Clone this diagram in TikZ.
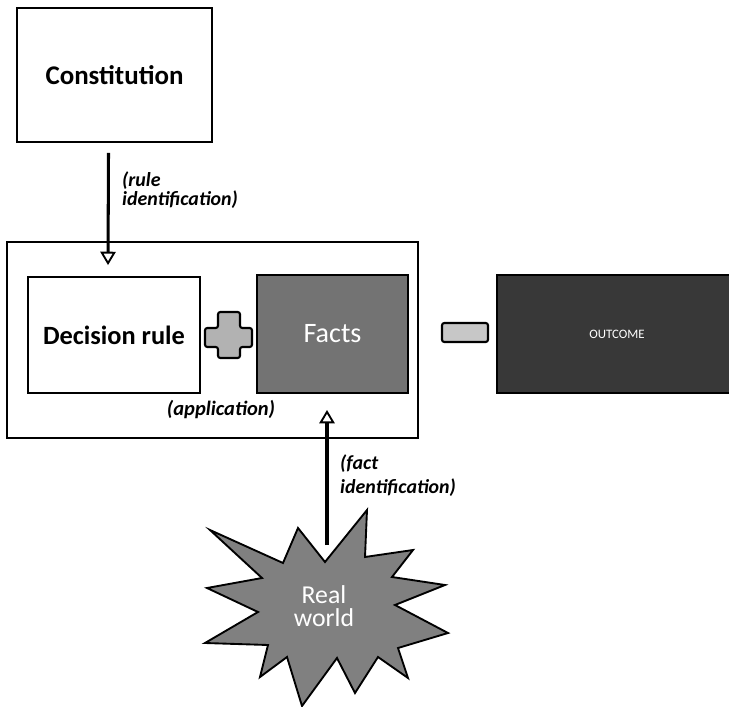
\documentclass[tikz,border=0pt]{standalone}
\usepackage{fontspec}
\setmainfont{Carlito}
\usepackage{tikz}
\usetikzlibrary{positioning,arrows.meta,calc}

\begin{document}
\begin{tikzpicture}[x=0.3mm, y=-0.3mm,
  box/.style={draw, line width=1.6pt, minimum width=#1, inner sep=0pt},
  big/.style={font=\fontsize{23}{26}\selectfont\bfseries},
  note/.style={font=\fontsize{17}{14.5}\selectfont\bfseries\itshape, align=left, inner sep=0pt},
  shade/.style={fill=black!#1},
  sign/.style={draw, line width=1.8pt, rounded corners=2pt, fill=black!30},
  arr/.style={line width=2.6pt, -{Triangle[open, length=4mm, width=4.6mm, line width=1.6pt]}}]
\useasboundingbox (0,0) rectangle (729,707);
% top box and the two boxes inside the frame
\node[box=195*0.3mm, minimum height=134*0.3mm, big] (con) at (114.5,75) {Constitution};
\node[draw, line width=1pt, minimum width=411*0.3mm, minimum height=196*0.3mm] (frame) at (212.5,340) {};
\node[box=172*0.3mm, minimum height=116*0.3mm, big, font=\fontsize{22.5}{26}\selectfont\bfseries] (dec) at (114,335) {Decision rule};
\node[box=151*0.3mm, minimum height=118*0.3mm, shade=55, text=white,
  font=\fontsize{24}{26}\selectfont] (facts) at (332.5,334) {Facts};
\node[box=240*0.3mm, minimum height=118*0.3mm, shade=78, text=white,
  font=\fontsize{11}{13}\selectfont] (out) at (617,334) {OUTCOME};
% plus and minus
\draw[sign] (218,312) -- (240,312) -- (240,328) -- (252,328) -- (252,347) -- (240,347)
  -- (240,358) -- (218,358) -- (218,347) -- (205,347) -- (205,328) -- (218,328) -- cycle;
\draw[sign, fill=black!22] (442,323) rectangle (488,342);
% real world
\draw[line width=1.6pt, line join=miter, shade=50]
  (210,530) -- (283,563) -- (298,528) -- (325,562) -- (367,510) -- (365,557)
  -- (413,550) -- (392,577) -- (445,585) -- (395,605) -- (448,633) -- (398,648)
  -- (408,678) -- (378,657) -- (355,693) -- (337,658) -- (302,706) -- (287,657)
  -- (260,677) -- (268,645) -- (205,643) -- (258,612) -- (207,588) -- (262,578) -- cycle;
\node[text=white, align=center, font=\fontsize{22}{20}\selectfont] (rw) at (324,606) {Real\\world};
\coordinate (rwtop) at (327,545);
% connectors
\draw[arr] ($(con.south)+(-6,10)$) -- ($(dec.north)+(-6,-11)$);
\node[note, anchor=north west] (ruleid) at (122,172) {(rule\\identification)};
\draw[arr] (rwtop) -- (rwtop |- 0,410);
\node[note, font=\fontsize{17}{20}\selectfont\bfseries\itshape, anchor=north west] (factid) at (340,455) {(fact\\identification)};
\node[note, font=\fontsize{17.5}{20}\selectfont\bfseries\itshape] (appl) at (221,410) {(application)};
\end{tikzpicture}
\end{document}
